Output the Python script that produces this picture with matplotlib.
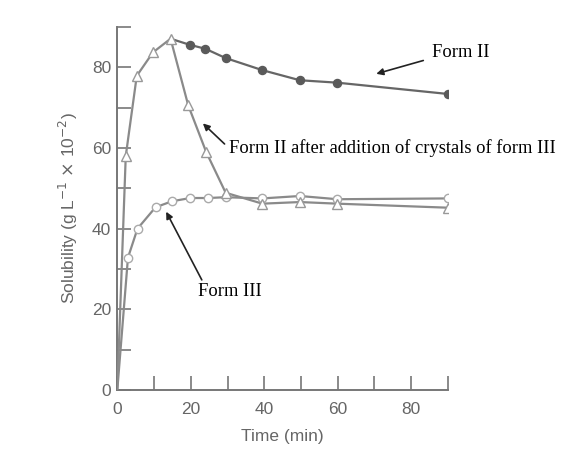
import matplotlib.pyplot as plt
from matplotlib.ticker import MultipleLocator

# ----------------------------
# データ
# ----------------------------
# 結晶形IIIを加えた形II（白抜き三角）
t_tri = [0, 2.3, 5.3, 9.7, 14.5, 19.3, 24.2, 29.5, 39.5, 49.7, 59.9, 90]
s_tri = [0, 58.0, 77.9, 83.7, 87.1, 70.6, 59.0, 48.9, 46.2, 46.6, 46.2, 45.2]

# 形II（黒丸）: ピーク(三角)から続く
t_form2 = [14.5, 19.7, 24.0, 29.5, 39.5, 49.7, 59.9, 90]
s_form2 = [87.1, 85.6, 84.6, 82.3, 79.3, 76.8, 76.2, 73.4]

# 形III（白丸）
t_form3 = [0, 2.9, 5.5, 10.4, 14.9, 19.9, 24.7, 29.5, 39.5, 49.7, 59.9, 90]
s_form3 = [0, 32.8, 40.0, 45.3, 46.8, 47.6, 47.6, 47.8, 47.5, 48.1, 47.3, 47.5]

x_ticks = [0, 20, 40, 60, 80]
y_ticks = [0, 20, 40, 60, 80]

line_c = "#8a8a8a"
axis_c = "#777777"
text_c = "#666666"

plt.rcParams['font.family'] = ['Liberation Sans', 'DejaVu Sans']

fig = plt.figure(figsize=(5.75, 4.58), dpi=100)
ax = fig.add_axes([0.204, 0.1485, 0.575, 0.7925])

# 線
ax.plot(t_form2, s_form2, color="#666666", lw=1.6, zorder=2)
ax.plot(t_form3, s_form3, color=line_c, lw=1.6, zorder=2)
ax.plot(t_tri, s_tri, color=line_c, lw=1.6, zorder=3)

# マーカー
ax.plot(t_form2[1:], s_form2[1:], ls="none", marker="o", ms=5.8,
        mfc="#5a5a5a", mec="#5a5a5a", zorder=4)
ax.plot(t_form3[1:], s_form3[1:], ls="none", marker="o", ms=6,
        mfc="white", mec="#aaaaaa", mew=1.0, zorder=4)
ax.plot(t_tri[1:], s_tri[1:], ls="none", marker="^", ms=7.5,
        mfc="white", mec="#999999", mew=1.0, zorder=5)

ax.set_xlim(0, 90)
ax.set_ylim(0, 90)
ax.set_xticks(x_ticks)
ax.set_yticks(y_ticks)
ax.xaxis.set_minor_locator(MultipleLocator(10))
ax.yaxis.set_minor_locator(MultipleLocator(10))
ax.tick_params(which="both", direction="in", length=10, width=1.2,
               color=axis_c, labelcolor=text_c, labelsize=12.5)
ax.tick_params(axis="x", pad=8.5)
ax.tick_params(axis="y", pad=4.5)

for side in ["top", "right"]:
    ax.spines[side].set_visible(False)
for side in ["left", "bottom"]:
    ax.spines[side].set_color(axis_c)
    ax.spines[side].set_linewidth(1.4)

ax.set_xlabel("Time (min)", fontsize=12.5, color=text_c, labelpad=9)
ax.set_ylabel(r"Solubility (g L$^{-1}$ $\times$ 10$^{-2}$)", fontsize=12.5,
              color=text_c, labelpad=8.5)

# 注釈（テキストと矢印を別々に描く）
serif = ['Liberation Serif', 'DejaVu Serif']
arrow = dict(arrowstyle="-|>", color="#222222", lw=1.2, mutation_scale=10,
             shrinkA=0, shrinkB=0)

ax.text(85.6, 83.7, "Form II", fontsize=13.3, family=serif,
        ha="left", va="center")
ax.annotate("", xy=(70.5, 78.4), xytext=(83.3, 81.7), arrowprops=arrow)

ax.text(30.3, 60.0, "Form II after addition of crystals of form III",
        fontsize=13.3, family=serif, ha="left", va="center")
ax.annotate("", xy=(23.3, 66.1), xytext=(29.2, 61.0), arrowprops=arrow)

ax.text(21.9, 24.5, "Form III", fontsize=13.3, family=serif,
        ha="left", va="center")
ax.annotate("", xy=(13.3, 44.2), xytext=(23.0, 27.3), arrowprops=arrow)

fig.savefig("out.png", dpi=100)
